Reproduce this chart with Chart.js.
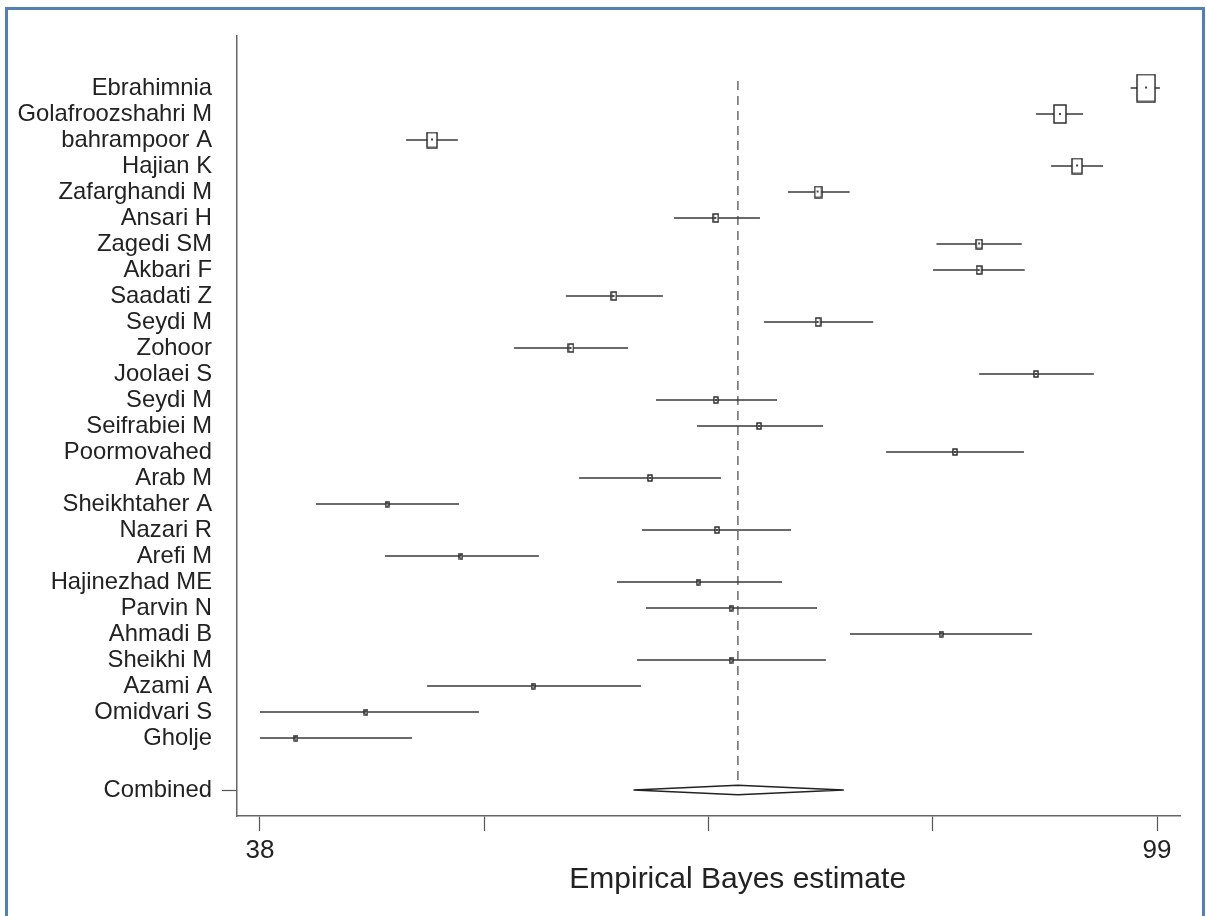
<!DOCTYPE html>
<html>
<head>
<meta charset="utf-8">
<script src="https://cdn.jsdelivr.net/npm/chart.js@4.4.1/dist/chart.umd.min.js"></script>
<style>
  html, body { margin:0; padding:0; background:#fff; }
  #wrap { position:relative; width:1206px; height:916px; }
  #frame { position:absolute; left:5px; top:7px; width:1200px; height:920px;
           border:3px solid #4f7fbf; border-bottom:none; box-sizing:border-box; pointer-events:none; }
  canvas { position:absolute; left:0; top:0; }
</style>
</head>
<body>
<div id="wrap">
  <canvas id="forest" width="1206" height="916"></canvas>
  <div id="frame"></div>
</div>
<script>
// ---- datos ----
const studies = ["Ebrahimnia","Golafroozshahri M","bahrampoor A","Hajian K","Zafarghandi M","Ansari H",
  "Zagedi SM","Akbari F","Saadati Z","Seydi M","Zohoor","Joolaei S","Seydi M","Seifrabiei M",
  "Poormovahed","Arab M","Sheikhtaher A","Nazari R","Arefi M","Hajinezhad ME","Parvin N",
  "Ahmadi B","Sheikhi M","Azami A","Omidvari S","Gholje"];
const estimate = [98.25, 92.4, 49.7, 93.56, 75.95, 69.0, 86.9, 86.9, 62.07, 75.95, 59.15, 90.77, 69.0, 71.93,
  85.26, 64.52, 46.64, 69.08, 51.67, 67.79, 70.03, 84.31, 70.03, 56.57, 45.21, 40.45];
const lower = [97.2, 90.77, 47.93, 91.79, 73.9, 66.15, 84.0, 83.77, 58.8, 72.27, 55.27, 86.9, 64.93, 67.72,
  80.57, 59.7, 41.81, 63.98, 46.5, 62.28, 64.25, 78.12, 63.64, 49.36, 38.0, 38.0];
const upper = [99.2, 93.97, 51.46, 95.33, 78.1, 72.0, 89.8, 90.0, 65.4, 79.7, 63.03, 94.7, 73.16, 76.29,
  89.95, 69.35, 51.53, 74.11, 56.97, 73.5, 75.88, 90.5, 76.49, 63.91, 52.89, 48.34];
const weight = [30.5, 13.6, 9.4, 9.4, 4.6, 2.4, 3.4, 2.4, 2.4, 2.4, 2.4, 1.5, 1.5, 1.5,
  1.5, 1.5, 1.1, 1.5, 1.1, 1.1, 1.1, 1.1, 0.8, 0.6, 0.6, 0.6];
const combinedLabel = "Combined";
const combined = { est: 70.5, lo: 63.4, hi: 77.7 };
const xTicks = [38, 53.25, 68.5, 83.75, 99];
const xTickLabels = ["38", "", "", "", "99"];
const xTitle = "Empirical Bayes estimate";

const combinedRow = studies.length + 1;
const FONT = "'Liberation Sans Narrow', 'Liberation Sans', Arial, sans-serif";
const INK = "#222";

// caja de cada estudio (area ~ peso)
function makeBox(w){
  const bw = Math.max(3, Math.round(Math.sqrt(w) * 3.26));
  const bh = Math.round(bw * 1.5);
  const c = document.createElement("canvas");
  c.width = bw + 2; c.height = bh + 2;
  const g = c.getContext("2d");
  g.fillStyle = "#fff";
  g.fillRect(1, 1, bw, bh);
  g.strokeStyle = "#222";
  g.lineWidth = 1.4;
  g.strokeRect(1, 1, bw, bh);
  g.fillStyle = "#444";
  g.fillRect(Math.floor(c.width/2) - 1, Math.floor(c.height/2) - 1, 2, 2);
  return c;
}

const boxes = studies.map((s, i) => ({ x: estimate[i], y: i }));
const ciLines = [];
studies.forEach((s, i) => {
  ciLines.push({ x: lower[i], y: i }, { x: upper[i], y: i }, { x: null, y: null });
});
const diamond = [
  { x: combined.lo, y: combinedRow },
  { x: combined.est, y: combinedRow - 0.18 },
  { x: combined.hi, y: combinedRow },
  { x: combined.est, y: combinedRow + 0.18 },
  { x: combined.lo, y: combinedRow }
];
const refLine = [ { x: combined.est, y: -0.27 }, { x: combined.est, y: combinedRow - 0.18 } ];

new Chart(document.getElementById("forest").getContext("2d"), {
  type: "scatter",
  data: {
    datasets: [
      { data: boxes, pointStyle: weight.map(makeBox), pointRadius: 6, order: 0 },
      { data: diamond, showLine: true, borderColor: INK, borderWidth: 1.5, backgroundColor: "#fff",
        fill: false, pointRadius: 0, order: 1 },
      { data: ciLines, showLine: true, spanGaps: false, borderColor: "#3a3a3a", borderWidth: 1.5,
        pointRadius: 0, order: 2 },
      { data: refLine, showLine: true, borderColor: "#444", borderWidth: 1.2, borderDash: [9, 6],
        pointRadius: 0, order: 3 }
    ]
  },
  options: {
    responsive: false,
    animation: false,
    layout: { padding: { top: 36, right: 26, left: 0, bottom: 0 } },
    plugins: { legend: { display: false }, tooltip: { enabled: false } },
    scales: {
      x: {
        type: "linear", min: 36.44, max: 100.56,
        afterBuildTicks: s => { s.ticks = xTicks.map(v => ({ value: v })); },
        afterFit: s => { s.height = 100; },
        ticks: { callback: (v, i) => xTickLabels[i], color: INK, padding: 4, maxRotation: 0, autoSkip: false,
                 font: { family: FONT, size: 26 } },
        grid: { drawOnChartArea: false, tickLength: 15, tickColor: "#555", tickWidth: 1.2 },
        border: { color: "#666", width: 1.5 },
        // espacios delante: el titulo queda centrado bajo la linea de referencia
        title: { display: true, text: "       " + xTitle, color: INK, font: { family: FONT, size: 30 },
                 padding: { top: 0, bottom: 18 } }
      },
      y: {
        type: "linear", reverse: true, min: -2, max: 28,
        afterBuildTicks: s => {
          s.ticks = studies.map((n, i) => ({ value: i })).concat([{ value: combinedRow }]);
        },
        afterFit: s => { s.width = 237; },
        ticks: {
          autoSkip: false, color: INK, padding: 10,
          font: { family: FONT, size: 23.8 },
          callback: v => v === combinedRow ? combinedLabel : studies[v]
        },
        grid: { drawOnChartArea: false, tickLength: 15, tickWidth: 1.2,
                tickColor: ctx => (ctx.tick && ctx.tick.value === combinedRow) ? "#555" : "rgba(0,0,0,0)" },
        border: { color: "#666", width: 1.5 }
      }
    }
  }
});
</script>
</body>
</html>
